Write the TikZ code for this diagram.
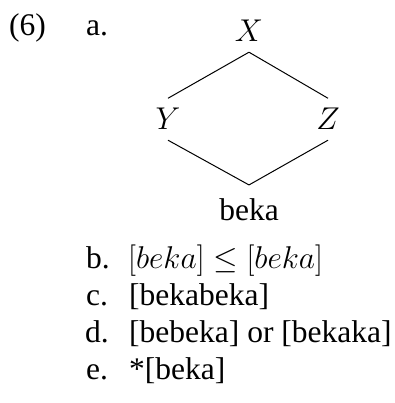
\documentclass[tikz,border=0pt]{standalone}
\usepackage{fix-cm}
\usepackage[no-math]{fontspec}
\setmainfont{Liberation Serif}
\begin{document}
\begin{tikzpicture}[x=1pt,y=-1pt,
  every node/.style={font=\fontsize{31.5}{38}\selectfont},
  txt/.style={anchor=base west, inner sep=0pt},
  tnode/.style={anchor=base, inner xsep=0pt, inner ysep=10pt},
  edge/.style={line width=1pt}]
\useasboundingbox (0,0) rectangle (394,403);
\node[txt] (num) at (9,36) {(6)};
\node[txt] (la) at (86,36) {a.};
\node[tnode] (X) at (249,42) {$X$};
\node[tnode] (Y) at (168,130) {$Y$};
\node[tnode] (Z) at (328,130) {$Z$};
\node[tnode, inner ysep=13pt] (B) at (249,220) {beka};
\draw[edge] (X.south) -- (Y.north);
\draw[edge] (X.south) -- (Z.north);
\draw[edge] (Y.south) -- (B.north);
\draw[edge] (Z.south) -- (B.north);
\node[txt] (lb) at (86,268) {b.};
\node[txt] (tb) at (128,268) {$[beka]\leq[beka]$};
\node[txt] (lc) at (86,305) {c.};
\node[txt] (tc) at (129,305) {[bekabeka]};
\node[txt] (ld) at (85,342) {d.};
\node[txt] (td) at (129,342) {[bebeka] or [bekaka]};
\node[txt] (le) at (86,379) {e.};
\node[txt] (te) at (129,379) {*[beka]};
\end{tikzpicture}
\end{document}
